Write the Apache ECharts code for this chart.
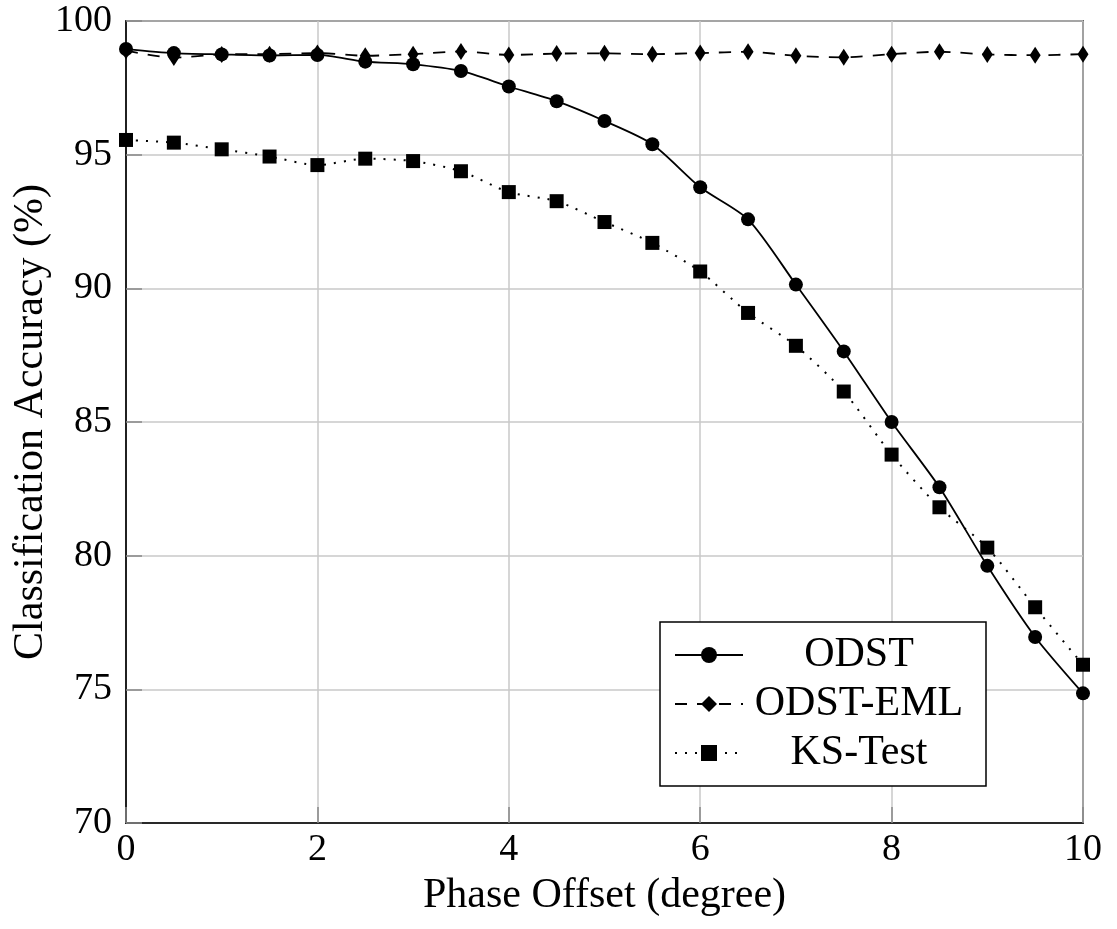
<!DOCTYPE html>
<html>
<head>
<meta charset="utf-8">
<script src="https://cdn.jsdelivr.net/npm/echarts@6/dist/echarts.min.js"></script>
<style>html,body{margin:0;padding:0;background:#fff}#c{width:1117px;height:929px}</style>
</head>
<body>
<div id="c"></div>
<script>
const xValues = [0,0.5,1,1.5,2,2.5,3,3.5,4,4.5,5,5.5,6,6.5,7,7.5,8,8.5,9,9.5,10];
const odst = [98.95,98.8,98.75,98.71,98.73,98.48,98.38,98.13,97.55,97.0,96.26,95.39,93.78,92.58,90.14,87.64,85.0,82.56,79.62,76.96,74.85];
const odstEml = [98.89,98.63,98.75,98.76,98.8,98.7,98.76,98.86,98.73,98.78,98.79,98.76,98.8,98.85,98.7,98.64,98.76,98.85,98.75,98.72,98.76];
const ksTest = [95.55,95.45,95.2,94.93,94.61,94.85,94.76,94.38,93.6,93.26,92.48,91.7,90.63,89.08,87.85,86.14,83.78,81.81,80.3,78.07,75.92];
const seriesNames = ['ODST','ODST-EML','KS-Test'];
const xTitle = 'Phase Offset (degree)';
const yTitle = 'Classification Accuracy (%)';

const font = 'Liberation Serif';
const pair = arr => xValues.map((x,i)=>[x,arr[i]]);
const chart = echarts.init(document.getElementById('c'));
chart.setOption({
  animation:false,
  backgroundColor:'#fff',
  grid:{left:126,right:34,top:21,bottom:106,containLabel:false,outerBoundsMode:'none',
    show:true,borderColor:'#000',borderWidth:1.6,backgroundColor:'transparent'},
  legend:{
    orient:'vertical', left:660, top:622,
    padding:[12,16,12,14],
    borderColor:'#000', borderWidth:1.5, backgroundColor:'#fff',
    itemWidth:68, itemHeight:20, itemGap:7,
    formatter:'{a|{name}}',
    textStyle:{fontFamily:font,fontSize:42,color:'#000',lineHeight:42,
      rich:{a:{fontFamily:font,fontSize:42,color:'#000',lineHeight:42,width:222,align:'center'}}},
    data:seriesNames
  },
  xAxis:{
    type:'value', min:0, max:10, interval:2,
    name:xTitle, nameLocation:'middle', nameGap:52, nameMoveOverlap:false,
    nameTextStyle:{fontFamily:font,fontSize:42,color:'#000'},
    axisLine:{show:true,lineStyle:{color:'#000',width:1.6}},
    axisTick:{show:true,inside:true,length:16,lineStyle:{color:'#888',width:1.5}},
    axisLabel:{fontFamily:font,fontSize:38,color:'#000',margin:8},
    splitLine:{show:true,lineStyle:{color:'#c8c8c8',width:1.5}}
  },
  yAxis:{
    type:'value', min:70, max:100, interval:5,
    name:yTitle, nameLocation:'middle', nameGap:74, nameMoveOverlap:false,
    nameTextStyle:{fontFamily:font,fontSize:42,color:'#000'},
    axisLine:{show:true,lineStyle:{color:'#000',width:1.6}},
    axisTick:{show:true,inside:true,length:16,lineStyle:{color:'#888',width:1.5}},
    axisLabel:{fontFamily:font,fontSize:38,color:'#000',margin:14},
    splitLine:{show:true,lineStyle:{color:'#c8c8c8',width:1.5}}
  },
  series:[
    {name:seriesNames[0],type:'line',data:pair(odst),smooth:0.25,symbol:'circle',symbolSize:14,
     lineStyle:{color:'#000',width:1.8,type:'solid'},itemStyle:{color:'#000'},z:3},
    {name:seriesNames[1],type:'line',data:pair(odstEml),smooth:0.25,symbol:'diamond',symbolSize:[11,17],
     lineStyle:{color:'#000',width:1.8,type:[12,10]},itemStyle:{color:'#000'},z:2},
    {name:seriesNames[2],type:'line',data:pair(ksTest),smooth:0.25,symbol:'rect',symbolSize:14,
     lineStyle:{color:'#000',width:2,type:[2,8]},itemStyle:{color:'#000'},z:2}
  ]
});
</script>
</body>
</html>
